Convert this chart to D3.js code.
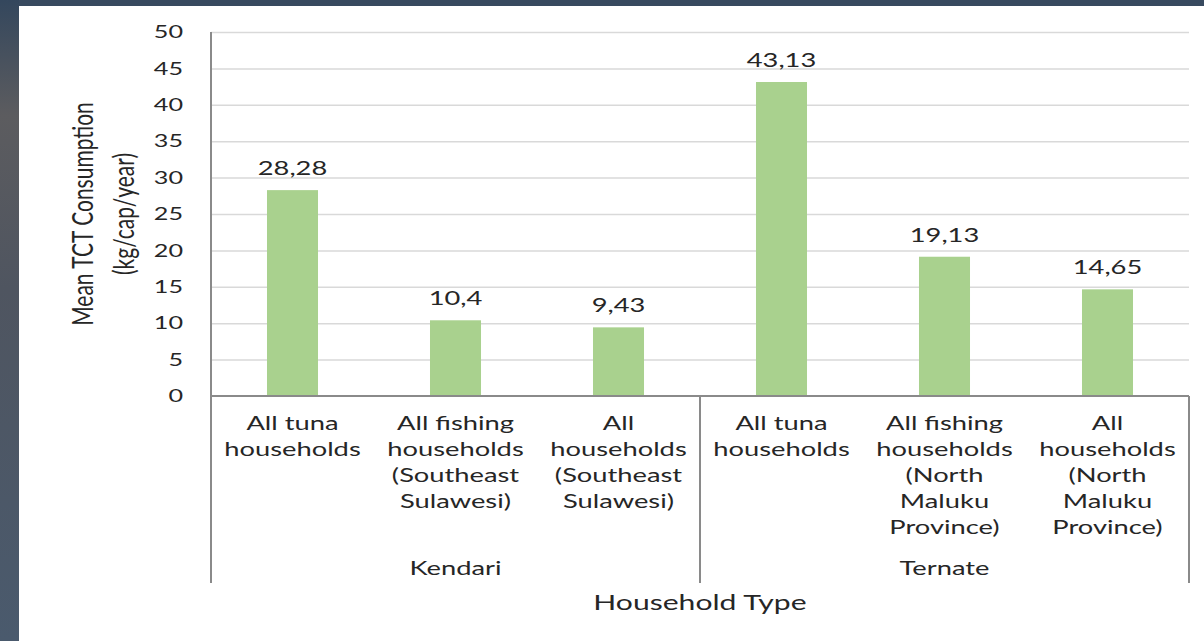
<!DOCTYPE html>
<html>
<head>
<meta charset="utf-8">
<script src="https://cdn.jsdelivr.net/npm/d3@7/dist/d3.min.js"></script>
<style>
  html, body { margin: 0; padding: 0; background: #3a4b60; }
  svg { display: block; }
  text { font-family: Lato, "Open Sans", sans-serif; fill: #262626; }
</style>
</head>
<body>
<svg id="chart" width="1204" height="641"></svg>
<script>
// ---- data ----
const categoryLabels = [
  ["All tuna", "households"],
  ["All fishing", "households", "(Southeast", "Sulawesi)"],
  ["All", "households", "(Southeast", "Sulawesi)"],
  ["All tuna", "households"],
  ["All fishing", "households", "(North", "Maluku", "Province)"],
  ["All", "households", "(North", "Maluku", "Province)"]
];
const groups = ["Kendari", "Kendari", "Kendari", "Ternate", "Ternate", "Ternate"];
const values = [28.28, 10.4, 9.43, 43.13, 19.13, 14.65];
const yTicks = [0, 5, 10, 15, 20, 25, 30, 35, 40, 45, 50];
const yTitle = ["Mean TCT Consumption", "(kg/cap/year)"];
const xTitle = "Household Type";

// ---- layout ----
const W = 1204, H = 641;
const S = 1.4; // horizontal stretch of text
const plot = { left: 211, right: 1189, top: 32, bottom: 396 };
const catBottom = 583;

const svg = d3.select("#chart");
const defs = svg.append("defs");
const grad = defs.append("linearGradient").attr("id", "bg").attr("x1", 0).attr("y1", 0).attr("x2", 0).attr("y2", 1);
grad.append("stop").attr("offset", "0%").attr("stop-color", "#34475d");
grad.append("stop").attr("offset", "18%").attr("stop-color", "#5c5c5f");
grad.append("stop").attr("offset", "45%").attr("stop-color", "#4f5560");
grad.append("stop").attr("offset", "100%").attr("stop-color", "#4a5a6d");
svg.append("rect").attr("width", W).attr("height", H).attr("fill", "#384a5f");
svg.append("rect").attr("x", 0).attr("y", 0).attr("width", 19).attr("height", H).attr("fill", "url(#bg)");
svg.append("rect").attr("x", 19).attr("y", 6).attr("width", W - 19).attr("height", H - 6).attr("fill", "#ffffff");

const idx = values.map((d, i) => i);
const x = d3.scaleBand().domain(idx).range([plot.left, plot.right]).paddingInner(0.687).paddingOuter(0.3435);
const xStep = d3.scaleBand().domain(idx).range([plot.left, plot.right]).padding(0);
const y = d3.scaleLinear().domain([0, 50]).range([plot.bottom, plot.top]);

// gridlines
svg.append("g")
  .attr("transform", `translate(${plot.left},0)`)
  .call(d3.axisLeft(y).tickValues(yTicks.filter(t => t > 0)).tickSize(-(plot.right - plot.left)).tickFormat(""))
  .call(g => g.select(".domain").remove())
  .call(g => g.selectAll("line").attr("stroke", "#d9d9d9").attr("stroke-width", 1.5));

// bars
svg.append("g").selectAll("rect").data(values).join("rect")
  .attr("x", (d, i) => x(i))
  .attr("y", d => y(d))
  .attr("width", x.bandwidth())
  .attr("height", d => y(0) - y(d))
  .attr("fill", "#a9d18e");

// value labels
svg.append("g").selectAll("g").data(values).join("g")
  .attr("transform", (d, i) => `translate(${x(i) + x.bandwidth() / 2},${y(d) - 15}) scale(${S},1)`)
  .append("text")
  .attr("text-anchor", "middle")
  .attr("font-size", 19.5)
  .text(d => String(d).replace(".", ","));

// y axis tick labels
svg.append("g")
  .attr("transform", `translate(${plot.left},0)`)
  .call(d3.axisLeft(y).tickValues(yTicks).tickSize(0).tickPadding(0))
  .call(g => g.select(".domain").remove())
  .call(g => g.selectAll("text")
    .attr("font-family", "Lato, sans-serif")
    .attr("font-size", 18)
    .attr("fill", "#262626")
    .attr("x", -28 / S)
    .attr("transform", `scale(${S},1)`));

// axis lines
const axisColor = "#8a8a8a";
svg.append("line").attr("x1", plot.left).attr("x2", plot.left).attr("y1", plot.top).attr("y2", catBottom)
  .attr("stroke", axisColor).attr("stroke-width", 2);
svg.append("line").attr("x1", plot.left).attr("x2", plot.right).attr("y1", plot.bottom).attr("y2", plot.bottom)
  .attr("stroke", axisColor).attr("stroke-width", 2);

// group separators
const groupNames = Array.from(new Set(groups));
const groupBounds = groupNames.map(gn => {
  const members = idx.filter(i => groups[i] === gn);
  const x0 = xStep(members[0]);
  const x1 = xStep(members[members.length - 1]) + xStep.bandwidth();
  return { name: gn, x0, x1 };
});
groupBounds.forEach(b => {
  svg.append("line").attr("x1", b.x1).attr("x2", b.x1).attr("y1", plot.bottom).attr("y2", catBottom)
    .attr("stroke", axisColor).attr("stroke-width", 2);
});

// category labels
const lineH = 26;
svg.append("g").selectAll("g").data(categoryLabels).join("g")
  .attr("transform", (d, i) => `translate(${xStep(i) + xStep.bandwidth() / 2},430) scale(${S},1)`)
  .each(function(lines) {
    d3.select(this).selectAll("text").data(lines).join("text")
      .attr("text-anchor", "middle")
      .attr("font-size", 19.5)
      .attr("y", (d, j) => j * lineH)
      .text(d => d);
  });

// group labels
svg.append("g").selectAll("g").data(groupBounds).join("g")
  .attr("transform", b => `translate(${(b.x0 + b.x1) / 2},575) scale(${S},1)`)
  .append("text")
  .attr("text-anchor", "middle")
  .attr("font-size", 19.5)
  .text(b => b.name);

// x title
svg.append("g")
  .attr("transform", `translate(${(plot.left + plot.right) / 2},610) scale(${S},1)`)
  .append("text")
  .attr("text-anchor", "middle")
  .attr("font-size", 21.5)
  .text(xTitle);

// y title
const yt = svg.append("g")
  .attr("transform", `translate(93,${(plot.top + plot.bottom) / 2}) scale(${S},1) rotate(-90)`);
yt.selectAll("text").data(yTitle).join("text")
  .attr("text-anchor", "middle")
  .attr("font-size", 21)
  .attr("y", (d, i) => i * 29)
  .text(d => d);
</script>
</body>
</html>
